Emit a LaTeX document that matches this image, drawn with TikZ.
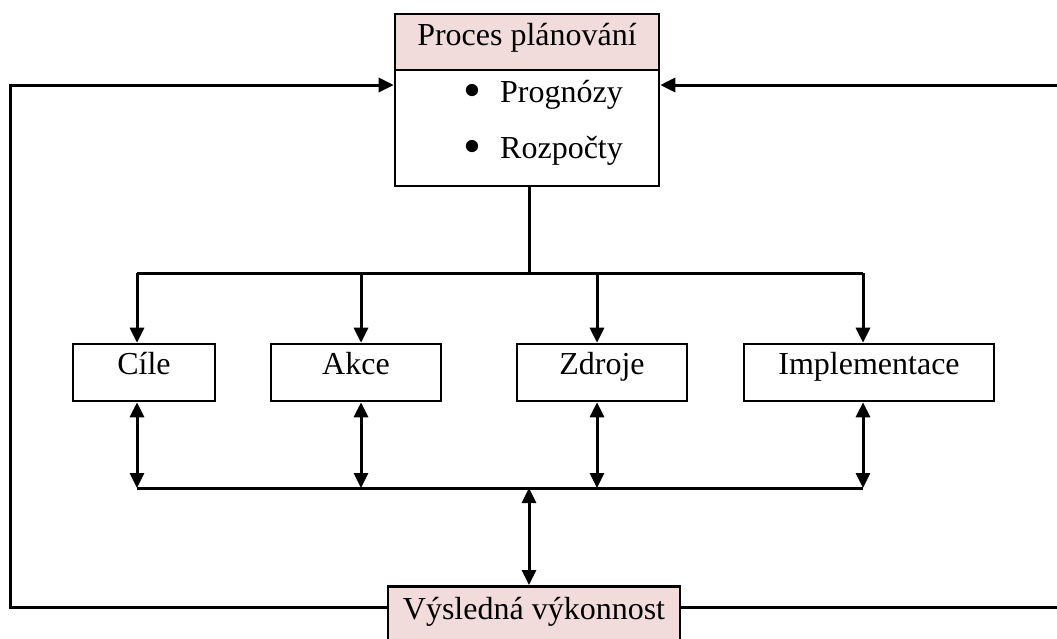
\documentclass[tikz,border=0pt]{standalone}
\usepackage{fontspec}
\usepackage{graphicx}
\setmainfont{Liberation Serif}
\usetikzlibrary{arrows.meta,calc}
\definecolor{pinkfill}{RGB}{242,220,219}
\newcommand{\bigbul}{\makebox[10pt][l]{\raisebox{-5pt}{\scalebox{1.6}{\textbullet}}}}
\begin{document}
\begin{tikzpicture}[x=1pt,y=-1pt,
  box/.style={draw, line width=2.6pt, inner sep=0pt, font=\fontsize{32}{38}\selectfont},
  rowbox/.style={box, text height=30pt, text depth=27pt},
  txt/.style={font=\fontsize{32}{38}\selectfont, inner sep=0pt},
  conn/.style={line width=3pt},
  arr/.style={conn, -{Triangle[length=15pt,width=14pt]}},
  darr/.style={conn, {Triangle[length=15pt,width=14pt]}-{Triangle[length=15pt,width=14pt]}}]
\useasboundingbox (0,0) rectangle (1057,638);

% top box
\node[box, fill=pinkfill, minimum width=264pt, text height=31pt, text depth=25pt] (hdr) at (527,42) {Proces plánování};
\node[box, minimum width=264pt, minimum height=116pt] (body) at (527,128) {};
\node[txt, anchor=base west] (p1) at (463,102) {\bigbul\hspace{27pt}Prognózy};
\node[txt, anchor=base west] (p2) at (463,158) {\bigbul\hspace{27pt}Rozpočty};

% row boxes
\node[rowbox, minimum width=142pt] (cile) at (144,372.5) {Cíle};
\node[rowbox, minimum width=170pt] (akce) at (356,372.5) {Akce};
\node[rowbox, minimum width=170pt] (zdroje) at (602,372.5) {Zdroje};
\node[rowbox, minimum width=250pt] (impl) at (869,372.5) {Implementace};

% bottom box
\node[box, fill=pinkfill, minimum width=292pt, text height=33pt, text depth=42pt, anchor=north] (vys) at (534,585) {Výsledná výkonnost};

% coordinates
\coordinate (tm) at (529,273);
\coordinate (ta) at (137,273);
\coordinate (tb) at (361,273);
\coordinate (tc) at (597,273);
\coordinate (td) at (863,273);
\coordinate (ba) at (137,488);
\coordinate (bb) at (361,488);
\coordinate (bc) at (597,488);
\coordinate (bd) at (863,488);
\coordinate (bm) at (529,488);
\coordinate (lb) at (10,607);
\coordinate (lt) at (10,85);
\coordinate (rb) at (1066,607);
\coordinate (rt) at (1066,85);

% top distribution
\draw[conn] (body.south -| tm) -- (tm);
\draw[conn] (ta) -- (td);
\draw[arr] (ta) -- (ta |- cile.north);
\draw[arr] (tb) -- (tb |- akce.north);
\draw[arr] (tc) -- (tc |- zdroje.north);
\draw[arr] (td) -- (td |- impl.north);

% bottom collection
\draw[conn] (ba) -- (bd);
\draw[darr] (ba |- cile.south) -- (ba);
\draw[darr] (bb |- akce.south) -- (bb);
\draw[darr] (bc |- zdroje.south) -- (bc);
\draw[darr] (bd |- impl.south) -- (bd);
\draw[darr] (bm) -- (bm |- vys.north);

% feedback loops
\draw[arr] (vys.west |- lb) -- (lb) -- (lt) -- (lt -| body.west);
\draw[arr] (vys.east |- rb) -- (rb) -- (rt) -- (rt -| body.east);
\end{tikzpicture}
\end{document}
